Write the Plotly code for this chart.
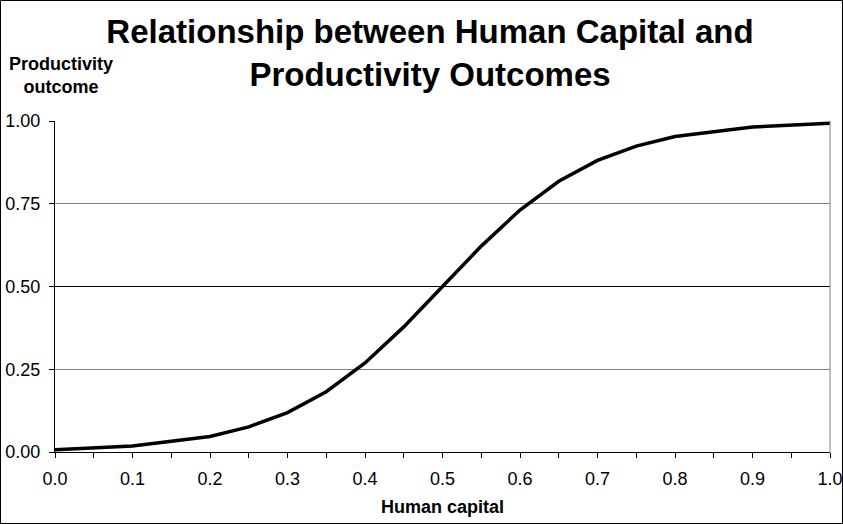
import plotly.graph_objects as go

human_capital = [0.0, 0.1, 0.2, 0.25, 0.3, 0.35, 0.4, 0.45, 0.5, 0.55, 0.6, 0.65, 0.7, 0.75, 0.8, 0.9, 1.0]
productivity = [0.007, 0.018, 0.047, 0.076, 0.119, 0.182, 0.269, 0.378, 0.5, 0.622, 0.731, 0.818, 0.881, 0.924, 0.953, 0.982, 0.993]
x_ticks = [0.0, 0.1, 0.2, 0.3, 0.4, 0.5, 0.6, 0.7, 0.8, 0.9, 1.0]
x_tick_labels = ["0.0", "0.1", "0.2", "0.3", "0.4", "0.5", "0.6", "0.7", "0.8", "0.9", "1.0"]
y_ticks = [0.0, 0.25, 0.5, 0.75, 1.0]
y_tick_labels = ["0.00", "0.25", "0.50", "0.75", "1.00"]

W, H = 843, 524
L, R, T, B = 55, 13, 121, 72
pw, ph = W - L - R, H - T - B

fig = go.Figure()
fig.add_trace(go.Scatter(x=human_capital, y=productivity, mode="lines",
                         line=dict(color="black", width=3.5), showlegend=False))

font = "Arial, Liberation Sans, sans-serif"
fig.update_layout(
    width=W, height=H,
    margin=dict(l=L, r=R, t=T, b=B, autoexpand=False),
    paper_bgcolor="white", plot_bgcolor="white",
    font=dict(family=font, color="black", size=18),
    title=dict(text="<b>Relationship between Human Capital and<br>Productivity Outcomes</b>",
               x=430 / W, xanchor="center", y=1 - 43 / H, yanchor="middle",
               font=dict(size=33, family=font, color="black")),
    xaxis=dict(range=[0, 1], tickvals=x_ticks, ticktext=x_tick_labels,
               showgrid=False, zeroline=False, showline=True, linecolor="black", linewidth=1,
               ticks="outside", ticklen=5, tickcolor="black", ticklabelstandoff=5,
               minor=dict(dtick=0.05, ticks="outside", ticklen=5, tickcolor="black", showgrid=False),
               tickfont=dict(size=18), fixedrange=True, automargin=False),
    yaxis=dict(range=[0, 1], tickvals=y_ticks, ticktext=y_tick_labels,
               showgrid=True, gridcolor="#808080", gridwidth=1, zeroline=False,
               showline=True, linecolor="black", linewidth=1,
               ticks="outside", ticklen=5, tickcolor="black", ticklabelstandoff=5,
               tickfont=dict(size=18), fixedrange=True, automargin=False),
)

fig.add_annotation(text="<b>Human capital</b>", xref="paper", yref="paper",
                   x=(442 - L) / pw, y=-(507 - (T + ph)) / ph, showarrow=False,
                   xanchor="center", yanchor="middle", font=dict(size=18, family=font))
fig.add_annotation(text="<b>Productivity<br>outcome</b>", xref="paper", yref="paper",
                   x=(61 - L) / pw, y=(T + ph - 76) / ph, showarrow=False,
                   xanchor="center", yanchor="middle", align="center",
                   font=dict(size=18, family=font))

# darker middle gridline as rendered in the reference
fig.add_shape(type="line", xref="paper", yref="y", x0=0, x1=1, y0=0.5, y1=0.5,
              line=dict(color="black", width=1), layer="above")
# right plot border (grey)
fig.add_shape(type="line", xref="paper", yref="paper", x0=1, x1=1, y0=0, y1=1,
              line=dict(color="#808080", width=1))
# outer chart border
fig.add_shape(type="rect", xref="paper", yref="paper",
              x0=(0.5 - L) / pw, x1=(W - 0.5 - L) / pw,
              y0=-(H - 0.5 - (T + ph)) / ph, y1=(T + ph - 0.5) / ph,
              line=dict(color="black", width=1))

fig.write_html("out.html", config={"displayModeBar": False},
               post_script="document.body.style.margin='0';document.body.style.overflow='hidden';")
